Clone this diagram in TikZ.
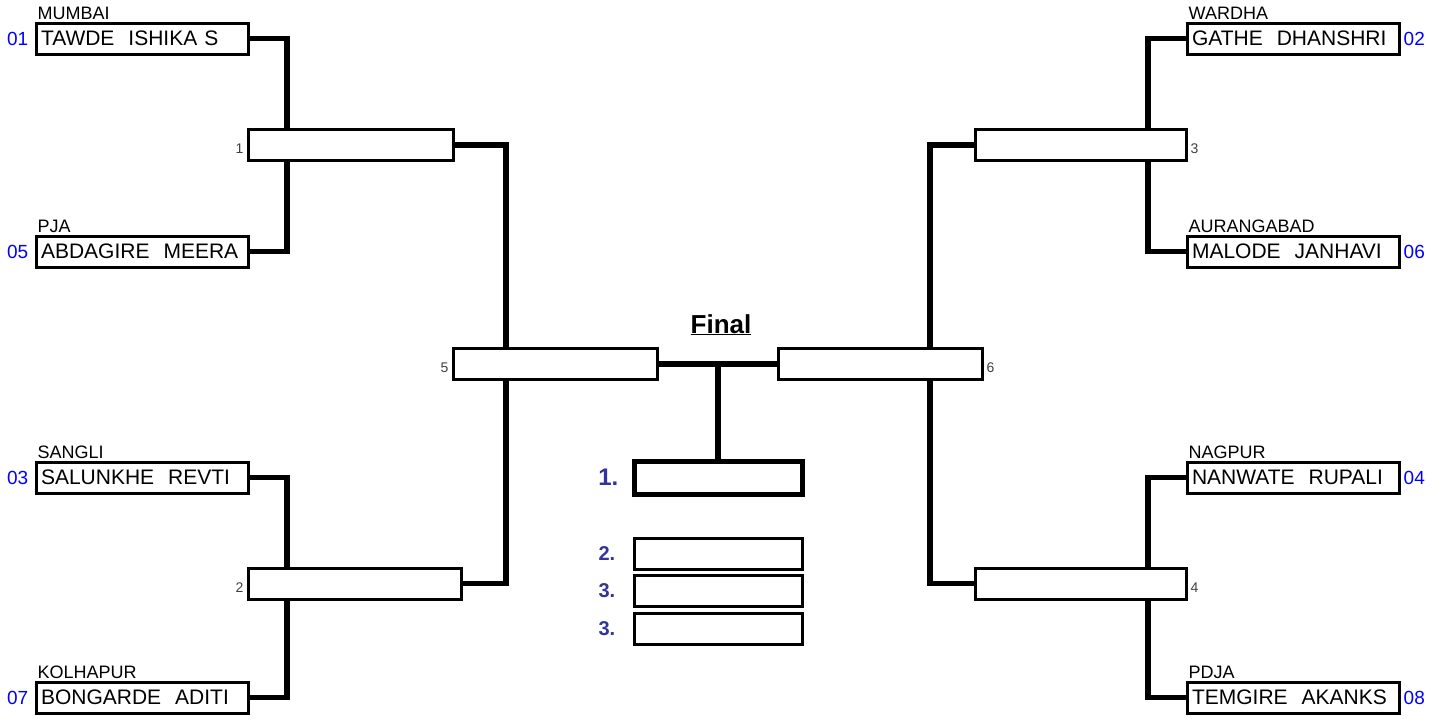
\documentclass[tikz,border=0pt]{standalone}
\usepackage{fontspec}
\setmainfont{Liberation Sans}
\usetikzlibrary{positioning}
\definecolor{seedblue}{RGB}{0,0,255}
\definecolor{rankblue}{RGB}{51,51,153}
\definecolor{numgray}{RGB}{64,64,64}
\tikzset{
	player/.style={draw, line width=3pt, fill=white, minimum height=31pt, text width=202pt, inner xsep=5pt, inner ysep=0pt, align=left, font=\fontsize{21}{21}\selectfont},
	match/.style={draw, line width=3pt, fill=white, minimum height=31pt, inner sep=0pt},
	city/.style={anchor=base west, inner sep=0pt, font=\fontsize{18}{18}\selectfont},
	seed/.style={inner sep=0pt, text=seedblue, font=\fontsize{19}{19}\selectfont},
	matchno/.style={inner sep=0pt, text=numgray, font=\fontsize{14}{14}\selectfont},
	rank/.style={inner sep=0pt, text=rankblue, font=\bfseries\fontsize{20}{20}\selectfont},
	podium/.style={draw, line width=3pt, fill=white, minimum width=168pt, minimum height=31pt, inner sep=0pt},
	link/.style={line width=5.5pt},
}

\begin{document}
\begin{tikzpicture}[x=1pt, y=-1pt]
	%%%%% START %%%%%
	\useasboundingbox (0,0) rectangle (1443,718);
	
	% players, left
	\node[player] (p01) at (142, 38.5) {TAWDE\ \ ISHIKA S};
	\node[player] (p05) at (142, 251.5) {ABDAGIRE\ \ MEERA};
	\node[player] (p03) at (142, 477.5) {SALUNKHE\ \ REVTI};
	\node[player] (p07) at (142, 697.5) {BONGARDE\ \ ADITI};
	
	% players, right
	\node[player] (p02) at (1293, 38.5) {GATHE\ \ DHANSHRI};
	\node[player] (p06) at (1293, 251.5) {MALODE\ \ JANHAVI};
	\node[player] (p04) at (1293, 477.5) {NANWATE\ \ RUPALI};
	\node[player] (p08) at (1293, 697.5) {TEMGIRE\ \ AKANKS};
	
	\node[city] (t01) at ([xshift=3pt, yshift=2pt]p01.north west) {MUMBAI};
	\node[city] (t05) at ([xshift=3pt, yshift=2pt]p05.north west) {PJA};
	\node[city] (t03) at ([xshift=3pt, yshift=2pt]p03.north west) {SANGLI};
	\node[city] (t07) at ([xshift=3pt, yshift=2pt]p07.north west) {KOLHAPUR};
	\node[city] (t02) at ([xshift=3pt, yshift=2pt]p02.north west) {WARDHA};
	\node[city] (t06) at ([xshift=3pt, yshift=2pt]p06.north west) {AURANGABAD};
	\node[city] (t04) at ([xshift=3pt, yshift=2pt]p04.north west) {NAGPUR};
	\node[city] (t08) at ([xshift=3pt, yshift=2pt]p08.north west) {PDJA};
	
	\node[seed, left=6pt of p01.west] (s01) {01};
	\node[seed, left=6pt of p05.west] (s05) {05};
	\node[seed, left=6pt of p03.west] (s03) {03};
	\node[seed, left=6pt of p07.west] (s07) {07};
	\node[seed, right=3pt of p02.east] (s02) {02};
	\node[seed, right=3pt of p06.east] (s06) {06};
	\node[seed, right=3pt of p04.east] (s04) {04};
	\node[seed, right=3pt of p08.east] (s08) {08};
	
	% matches
	\node[match, minimum width=205pt] (m1) at (350.5, 145) {};
	\node[match, minimum width=213pt] (m2) at (354.5, 583.5) {};
	\node[match, minimum width=211pt] (m3) at (1080.5, 145) {};
	\node[match, minimum width=211pt] (m4) at (1080.5, 583.5) {};
	\node[match, minimum width=204pt] (m5) at (555, 364) {};
	\node[match, minimum width=204pt] (m6) at (880, 364) {};
	
	\node[matchno, left=3pt of m1.west, yshift=-4pt] (n1) {1};
	\node[matchno, left=3pt of m2.west, yshift=-4pt] (n2) {2};
	\node[matchno, right=3pt of m3.east, yshift=-4pt] (n3) {3};
	\node[matchno, right=3pt of m4.east, yshift=-4pt] (n4) {4};
	\node[matchno, left=3pt of m5.west, yshift=-4pt] (n5) {5};
	\node[matchno, right=3pt of m6.east, yshift=-4pt] (n6) {6};
	
	% final and podium
	\node[anchor=base, inner sep=0pt, font=\bfseries\fontsize{26}{26}\selectfont] (final) at (721, 333) {\underline{Final}};
	\node[podium, line width=5pt, minimum height=33pt] (first) at (718, 477.5) {};
	\node[podium] (second) at (718, 553.5) {};
	\node[podium] (third) at (718, 590.5) {};
	\node[podium] (thirdb) at (718, 629) {};
	
	\node[rank, font=\bfseries\fontsize{24}{24}\selectfont, left=13pt of first.west] (r1) {1.};
	\node[rank, left=17pt of second.west] (r2) {2.};
	\node[rank, left=17pt of third.west] (r3) {3.};
	\node[rank, left=17pt of thirdb.west] (r3b) {3.};
	
	% links
	\coordinate (c1) at (287, 0);
	\coordinate (c2) at (506, 0);
	\coordinate (c3) at (1148, 0);
	\coordinate (c4) at (930, 0);
	
	\draw[link] (p01.east) -| (c1 |- m1.north);
	\draw[link] (p05.east) -| (c1 |- m1.south);
	\draw[link] (p03.east) -| (c1 |- m2.north);
	\draw[link] (p07.east) -| (c1 |- m2.south);
	\draw[link] (m1.east) -| (c2 |- m5.north);
	\draw[link] (m2.east) -| (c2 |- m5.south);
	
	\draw[link] (p02.west) -| (c3 |- m3.north);
	\draw[link] (p06.west) -| (c3 |- m3.south);
	\draw[link] (p04.west) -| (c3 |- m4.north);
	\draw[link] (p08.west) -| (c3 |- m4.south);
	\draw[link] (m3.west) -| (c4 |- m6.north);
	\draw[link] (m4.west) -| (c4 |- m6.south);
	
	\draw[link] (m5.east) -- (m6.west);
	\draw[link] (first.north |- m5.east) -- (first.north);
	
	%%%%% END %%%%%
\end{tikzpicture}
\end{document}
